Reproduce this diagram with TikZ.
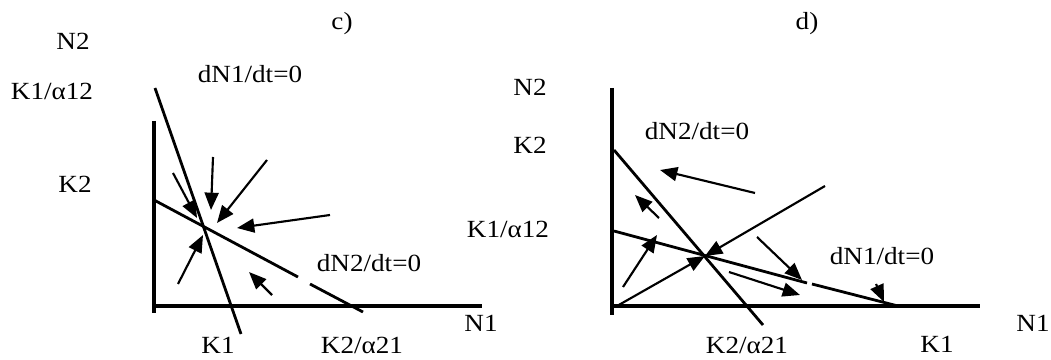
\documentclass[tikz,border=0pt]{standalone}
\usepackage{fontspec}
\setmainfont{Liberation Serif}
\usetikzlibrary{arrows.meta}

\begin{document}
\begin{tikzpicture}[x=0.75pt,y=-0.75pt,
    lbl/.style={anchor=base,inner sep=0pt,xscale=1.1,font=\fontsize{18.5}{22}\selectfont},
    axis/.style={line width=2.3pt},
    iso/.style={line width=2.1pt},
    flow/.style={line width=1.6pt,-{Triangle[length=13pt,width=10.5pt]}}]
      \useasboundingbox (0,0) rectangle (1051,360);
      % c)
      \coordinate (cO) at (154,306);
      \coordinate (cYtop) at (154,121);
      \coordinate (cYbot) at (154,313);
      \coordinate (cXend) at (482,306);
      \coordinate (cKa) at (155,88);
      \coordinate (cKb) at (241,334);
      \coordinate (cLa) at (154,200);
      \coordinate (cLb) at (298,277);
      \coordinate (cLc) at (310,284);
      \coordinate (cLd) at (363,312);
      \draw[axis] (cYtop) -- (cYbot);
      \draw[axis] (cO) -- (cXend);
      \draw[iso] (cKa) -- (cKb);
      \draw[iso] (cLa) -- (cLb) (cLc) -- (cLd);
      \draw[flow] (173,173) -- (197,218);
      \draw[flow] (213,157) -- (211,210);
      \draw[flow] (267,160) -- (217,223);
      \draw[flow] (330,215) -- (237,228);
      \draw[flow] (178,284) -- (203,235);
      \draw[flow] (272,295) -- (249,272);
      \node[lbl] (cTitle) at (342,30) {c)};
      \node[lbl] (cN2) at (73,50) {N2};
      \node[lbl] (cK1a) at (52,100) {K1/α12};
      \node[lbl] (cK2) at (75,193) {K2};
      \node[lbl] (cIsoA) at (250,83) {dN1/dt=0};
      \node[lbl] (cIsoB) at (369,271) {dN2/dt=0};
      \node[lbl] (cK1) at (218,353) {K1};
      \node[lbl] (cK2a) at (362,353) {K2/α21};
      \node[lbl] (cN1) at (481,331) {N1};
      % d)
      \coordinate (dO) at (612,306);
      \coordinate (dYtop) at (612,88);
      \coordinate (dYbot) at (612,315);
      \coordinate (dXend) at (980,306);
      \coordinate (dKa) at (614,150);
      \coordinate (dKb) at (763,325);
      \coordinate (dLa) at (614,231);
      \coordinate (dLb) at (807,283);
      \coordinate (dLc) at (812,284);
      \coordinate (dLd) at (898,306);
      \coordinate (dEq) at (705,256);
      \coordinate (dDa) at (617,306);
      \coordinate (dDb) at (825,186);
      \draw[axis] (dYtop) -- (dYbot);
      \draw[axis] (dO) -- (dXend);
      \draw[iso] (dKa) -- (dKb);
      \draw[iso] (dLa) -- (dLb) (dLc) -- (dLd);
      \draw[flow] (dDa) -- (dEq);
      \draw[flow] (dDb) -- (dEq);
      \draw[flow] (755,193) -- (660,170);
      \draw[flow] (659,218) -- (635,195);
      \draw[flow] (623,287) -- (657,235);
      \draw[flow] (757,237) -- (802,280);
      \draw[flow] (729,272) -- (800,295);
      \draw[flow] (876,284) -- (884,302);
      \node[lbl] (dTitle) at (807,30) {d)};
      \node[lbl] (dN2) at (530,96) {N2};
      \node[lbl] (dK2) at (530,154) {K2};
      \node[lbl] (dK1a) at (508,238) {K1/α12};
      \node[lbl] (dIsoB) at (697,140) {dN2/dt=0};
      \node[lbl] (dIsoA) at (882,264) {dN1/dt=0};
      \node[lbl] (dK2a) at (747,353) {K2/α21};
      \node[lbl] (dK1) at (937,352) {K1};
      \node[lbl] (dN1) at (1033,331) {N1};
    \end{tikzpicture}
\end{document}
